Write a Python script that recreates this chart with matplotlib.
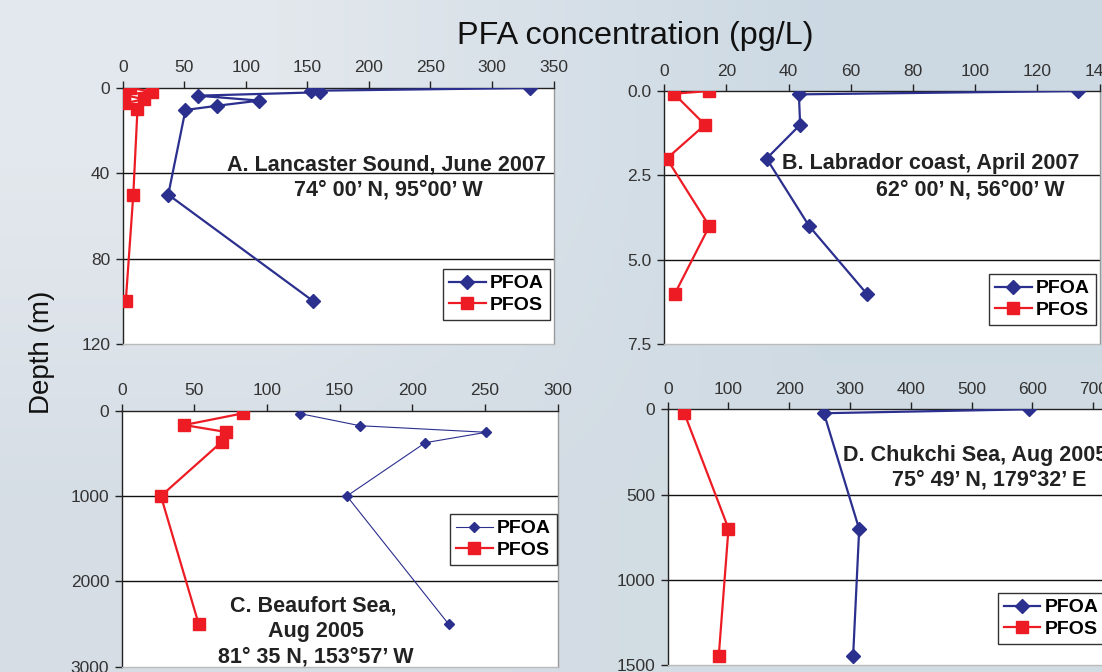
import numpy as np
import matplotlib
matplotlib.use("Agg")
import matplotlib.pyplot as plt

plt.rcParams['font.family'] = ['Liberation Sans', 'DejaVu Sans']

# data (concentration pg/L, depth m)
a_pfoa_x = [331, 153, 160, 61, 111, 77, 51, 37, 155]
a_pfoa_d = [0, 1.3, 2.0, 3.6, 5.9, 8.3, 10.3, 50, 100]
a_pfos_x = [6, 24, 1, 17, 1, 12, 8.6, 2.5]
a_pfos_d = [0, 1.7, 3.2, 5.3, 7.2, 10, 50, 100]

b_pfoa_x = [133, 43.3, 43.7, 32.9, 46.6, 65.1]
b_pfoa_d = [0, 0.1, 1.0, 2.0, 4.0, 6.0]
b_pfos_x = [14.5, 3.1, 13.1, 0.8, 14.5, 3.4]
b_pfos_d = [0, 0.08, 1.0, 2.0, 4.0, 6.0]

c_pfoa_x = [123, 164, 251, 209, 155, 225]
c_pfoa_d = [35, 176, 253, 375, 1000, 2500]
c_pfos_x = [83.5, 43, 72, 69, 27, 53]
c_pfos_d = [31, 168, 250, 363, 1000, 2500]

d_pfoa_x = [595, 257, 315, 305]
d_pfoa_d = [0, 23, 703, 1450]
d_pfos_x = [27, 100, 84]
d_pfos_d = [20, 700, 1446]

W, H = 1102, 672
BLUE = '#2b2f8e'
RED = '#ed1c24'

fig = plt.figure(figsize=(W / 100, H / 100), dpi=100)

# background gradient
bg = fig.add_axes([0, 0, 1, 1], zorder=-10)
grad = np.array([[[0.89, 0.91, 0.93], [0.80, 0.85, 0.89]],
                 [[0.84, 0.87, 0.90], [0.82, 0.86, 0.89]]])
bg.imshow(grad, aspect='auto', interpolation='bilinear', extent=[0, 1, 0, 1])
bg.axis('off')


def box(l, r, t, b):
    return [l / W, 1 - b / H, (r - l) / W, (b - t) / H]


def fpos(x, y):
    return x / W, 1 - y / H


def setup(ax, xlim, xticks, ylim, yticks, ylabels):
    ax.set_facecolor('white')
    ax.set_xlim(*xlim)
    ax.set_ylim(ylim[1], ylim[0])
    ax.xaxis.tick_top()
    ax.set_xticks(xticks)
    ax.set_yticks(yticks)
    ax.set_yticklabels(ylabels)
    ax.tick_params(direction='out', length=5, width=1, colors='#222',
                   labelsize=12.5, labelcolor='#333', pad=4)
    for y in yticks[1:-1]:
        ax.axhline(y, color='#111', lw=1, zorder=1)
    ax.spines['top'].set_color('#222')
    ax.spines['left'].set_color('#222')
    ax.spines['right'].set_color('#999')
    ax.spines['bottom'].set_color('#bbb')
    for s in ax.spines.values():
        s.set_linewidth(1)


def legend(ax, lines, x, y):
    leg = ax.legend(lines, ['PFOA', 'PFOS'], loc='upper left',
                    bbox_to_anchor=fpos(x, y), bbox_transform=fig.transFigure,
                    borderaxespad=0, fancybox=False, framealpha=1,
                    edgecolor='#333', prop={'weight': 'bold', 'size': 14},
                    handlelength=1.9, handletextpad=0.2, borderpad=0.3,
                    labelspacing=0.2)
    leg.get_frame().set_linewidth(1)


ann = dict(fontsize=15.5, fontweight='bold', color='#222', va='center')
mk_d = dict(marker='D', ms=7.6)
mk_s = dict(marker='s', ms=8.6)

# A
ax = fig.add_axes(box(122.7, 553.5, 88, 344))
setup(ax, (0, 350), range(0, 351, 50), (0, 120), [0, 40, 80, 120],
      ['0', '40', '80', '120'])
l1, = ax.plot(a_pfoa_x, a_pfoa_d, color=BLUE, lw=1.6, zorder=3, **mk_d)
l2, = ax.plot(a_pfos_x, a_pfos_d, color=RED, lw=1.6, zorder=3, **mk_s)
legend(ax, [l1, l2], 443, 269)
fig.text(*fpos(386, 165), 'A. Lancaster Sound, June 2007', ha='center', **ann)
fig.text(*fpos(388, 190), '74° 00’ N, 95°00’ W', ha='center', **ann)

# B
ax = fig.add_axes(box(664.3, 1099.5, 91, 344.3))
setup(ax, (0, 140), range(0, 141, 20), (0, 7.5), [0, 2.5, 5.0, 7.5],
      ['0.0', '2.5', '5.0', '7.5'])
l1, = ax.plot(b_pfoa_x, b_pfoa_d, color=BLUE, lw=1.6, zorder=3, **mk_d)
l2, = ax.plot(b_pfos_x, b_pfos_d, color=RED, lw=1.6, zorder=3, **mk_s)
legend(ax, [l1, l2], 989, 274)
fig.text(*fpos(931, 164), 'B. Labrador coast, April 2007', ha='center', **ann)
fig.text(*fpos(970, 190), '62° 00’ N, 56°00’ W', ha='center', **ann)

# C
ax = fig.add_axes(box(121.7, 557.5, 410.7, 666.7))
setup(ax, (0, 300), range(0, 301, 50), (0, 3000), [0, 1000, 2000, 3000],
      ['0', '1000', '2000', '3000'])
l1, = ax.plot(c_pfoa_x, c_pfoa_d, color=BLUE, lw=0.8, marker='D', ms=5.2, zorder=3)
l2, = ax.plot(c_pfos_x, c_pfos_d, color=RED, lw=1.6, zorder=3, **mk_s)
legend(ax, [l1, l2], 450, 514)
fig.text(*fpos(313, 606), 'C. Beaufort Sea,', ha='center', **ann)
fig.text(*fpos(316, 631.5), 'Aug 2005', ha='center', **ann)
fig.text(*fpos(316, 657), '81° 35 N, 153°57’ W', ha='center', **ann)

# D
ax = fig.add_axes(box(667.7, 1154, 409.3, 665))
setup(ax, (0, 800), range(0, 801, 100), (0, 1500), [0, 500, 1000, 1500],
      ['0', '500', '1000', '1500'])
l1, = ax.plot(d_pfoa_x, d_pfoa_d, color=BLUE, lw=1.6, zorder=3, **mk_d)
l2, = ax.plot(d_pfos_x, d_pfos_d, color=RED, lw=1.6, zorder=3, **mk_s)
legend(ax, [l1, l2], 997.7, 593)
fig.text(*fpos(843, 455), 'D. Chukchi Sea, Aug 2005', ha='left', **ann)
fig.text(*fpos(989, 480), '75° 49’ N, 179°32’ E', ha='center', **ann)

fig.text(*fpos(635, 36), 'PFA concentration (pg/L)', ha='center', va='center',
         fontsize=23.3, color='#111')
fig.text(*fpos(42, 352), 'Depth (m)', ha='center', va='center', rotation=90,
         fontsize=20, color='#111')

fig.savefig('out.png', dpi=100)
